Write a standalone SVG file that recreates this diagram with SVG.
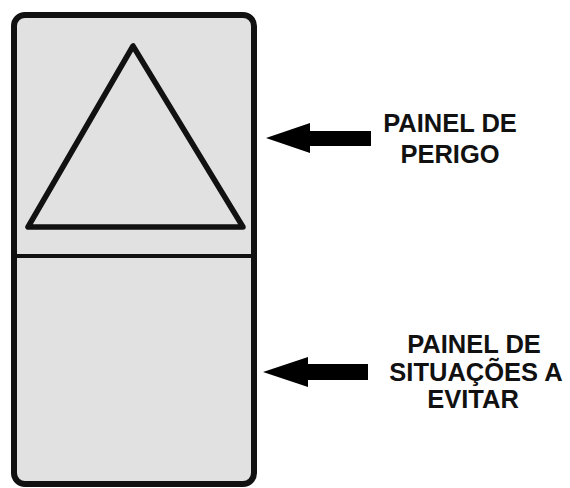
<svg xmlns="http://www.w3.org/2000/svg" width="570" height="488" viewBox="0 0 570 488">
<style>
.panel{fill:#e1e1e1;stroke:#111;stroke-width:6}
.line{stroke:#111;stroke-width:4}
.tri{fill:none;stroke:#111;stroke-width:5.5;stroke-linejoin:round}
.arrow{fill:#000}
.lbl{font-family:"Liberation Sans",Arial,sans-serif;font-weight:bold;font-size:25.5px;fill:#111;text-anchor:middle}
</style>
<rect width="570" height="488" fill="#fff"/>
<g id="sign">
<rect class="panel" x="14" y="15" width="240" height="469" rx="11"/>
<line class="line" x1="14" y1="256" x2="254" y2="256"/>
<polygon class="tri" points="133,46 28,227 243,227"/>
</g>
<g id="connectors">
<polygon class="arrow" points="266,138 310,123 310,131 371,131 371,146 310,146 310,153"/>
<polygon class="arrow" points="263,372 308,357 308,364 368,364 368,380 308,380 308,387"/>
</g>
<g id="label-perigo">
<text class="lbl" x="450" y="132">PAINEL DE</text>
<text class="lbl" x="450" y="163">PERIGO</text>
</g>
<g id="label-situacoes">
<text class="lbl" x="474" y="353">PAINEL DE</text>
<text class="lbl" x="476" y="381">SITUAÇÕES A</text>
<text class="lbl" x="473" y="408">EVITAR</text>
</g>
</svg>
